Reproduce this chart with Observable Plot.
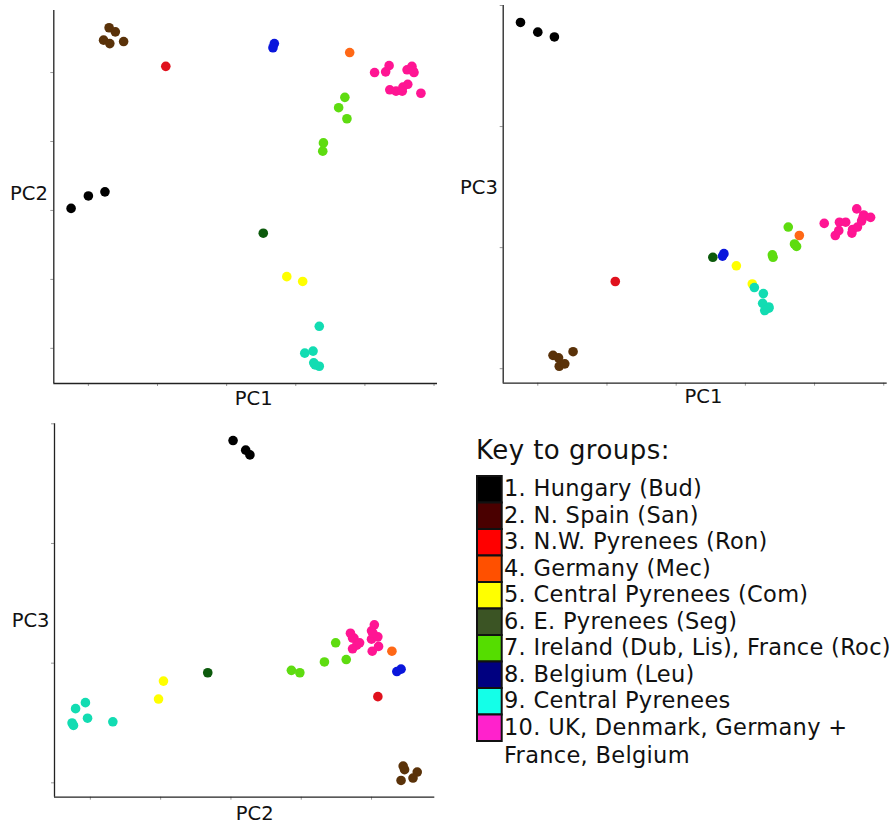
<!DOCTYPE html>
<html>
<head>
<meta charset="utf-8">
<script src="https://cdn.jsdelivr.net/npm/d3@7"></script>
<script src="https://cdn.jsdelivr.net/npm/@observablehq/plot@0.6"></script>
<style>
  body { margin: 0; background: #fff; }
  #chart { position: relative; width: 890px; height: 824px; overflow: hidden; background: #fff; }
  .panel { position: absolute; }
</style>
</head>
<body>
<div id="chart"></div>
<script>
// ---- data ----
const groupIds = [1, 2, 3, 4, 5, 6, 7, 8, 9, 10];
const groupLabels = [
  "1. Hungary (Bud)",
  "2. N. Spain (San)",
  "3. N.W. Pyrenees (Ron)",
  "4. Germany (Mec)",
  "5. Central Pyrenees (Com)",
  "6. E. Pyrenees (Seg)",
  "7. Ireland (Dub, Lis), France (Roc)",
  "8. Belgium (Leu)",
  "9. Central Pyrenees",
  "10. UK, Denmark, Germany +"
];
const labelContinuation = "France, Belgium";
const pointColors = ["#000000", "#5a3209", "#e0111d", "#ff6816", "#ffff00", "#0c5a0c", "#5edc10", "#0a16dc", "#12dcb2", "#ff1593"];
const keyColors = ["#000000", "#4a0000", "#ff0000", "#ff5000", "#ffff00", "#3b5424", "#55dd00", "#000080", "#14ffe8", "#ff22cc"];

const sampleGroup = [1,1,1, 2,2,2,2,2, 3, 4, 5,5, 6, 7,7,7,7,7, 8,8, 9,9,9,9,9,9, 10,10,10,10,10,10,10,10,10,10,10,10,10];
const pc1 = [0.75,1.00,1.24, 1.22,1.51,1.30,1.31,1.39, 2.12, 4.78, 3.87,4.10, 3.53, 4.62,4.71,4.74,4.40,4.39, 3.69,3.67, 4.34,4.13,4.25,4.26,4.34,4.28, 5.14,5.30,5.35,5.61,5.68,5.71,5.70,5.36,5.45,5.54,5.55,5.62,5.81];
const pc2 = [3.03,3.21,3.27, 5.47,5.45,5.65,5.42,5.59, 5.09, 5.29, 2.04,1.97, 2.67, 4.49,4.64,4.33,3.98,3.86, 5.42,5.36, 1.32,0.93,0.96,0.79,0.74,0.76, 5.00,5.01,5.10,5.04,5.09,5.00,5.02,4.75,4.73,4.73,4.79,4.83,4.70];
const pc3 = [2.86,2.78,2.74, 0.11,0.14,0.09,0.02,0.04, 0.72, 1.10, 0.85,0.70, 0.92, 1.17,1.03,1.01,0.92,0.94, 0.95,0.93, 0.51,0.67,0.54,0.62,0.50,0.48, 1.20,1.10,1.14,1.32,1.22,1.27,1.25,1.21,1.21,1.12,1.15,1.17,1.25];

const pc1Domain = [0.5, 6.05];
const pc2Domain = [0.49, 5.9];
const pc3Domain = [-0.12, 3.0];
const pc1Ticks = [1, 2, 3, 4, 5, 6];
const pc2Ticks = [1, 2, 3, 4, 5];
const pc3Ticks = [0, 1, 2, 3];

const samples = sampleGroup.map((g, i) => ({g, PC1: pc1[i], PC2: pc2[i], PC3: pc3[i]}));

const FONT = "DejaVu Sans, Verdana, sans-serif";

function panel(o) {
  return Plot.plot({
    width: o.width,
    height: o.height,
    marginLeft: o.ml, marginRight: o.mr, marginTop: o.mt, marginBottom: o.mb,
    style: {color: "#999", background: "transparent", fontFamily: FONT},
    x: {domain: o.xDomain, ticks: o.xTicks, tickSize: 3, tickFormat: () => "", label: null},
    y: {domain: o.yDomain, ticks: o.yTicks, tickSize: 3, tickFormat: () => "", label: null},
    color: {domain: groupIds, range: pointColors},
    marks: [
      Plot.ruleY([o.yDomain[0]], {stroke: "#222", strokeWidth: 1.3}),
      Plot.ruleX([o.xDomain[0]], {stroke: "#222", strokeWidth: 1.3}),
      Plot.dot(samples, {x: o.x, y: o.y, fill: "g", r: 4.8, stroke: null}),
      Plot.text([o.x], {frameAnchor: "bottom", lineAnchor: "bottom", dx: o.xlDx, dy: o.xlDy,
        fontSize: 19.5, fontFamily: FONT, fill: "#111", text: d => d}),
      Plot.text([o.y], {frameAnchor: "left", lineAnchor: "bottom", textAnchor: "end", dx: o.ylDx, dy: o.ylDy,
        fontSize: 19.5, fontFamily: FONT, fill: "#111", text: d => d})
    ]
  });
}

const chart = document.getElementById("chart");
function place(el, left, top) {
  el.classList.add("panel");
  el.style.left = left + "px";
  el.style.top = top + "px";
  chart.appendChild(el);
}

place(panel({x: "PC1", y: "PC2", width: 445, height: 410, ml: 53.3, mr: 8, mt: 10, mb: 27,
  xDomain: pc1Domain, yDomain: pc2Domain, xTicks: pc1Ticks, yTicks: pc2Ticks,
  xlDx: 8, xlDy: 21, ylDx: -6, ylDy: 2.5}), 0, 0);

place(panel({x: "PC1", y: "PC3", width: 445, height: 410, ml: 57.7, mr: 3.3, mt: 5, mb: 27.3,
  xDomain: pc1Domain, yDomain: pc3Domain, xTicks: pc1Ticks, yTicks: pc3Ticks,
  xlDx: 8.3, xlDy: 19.3, ylDx: -5.4, ylDy: -0.5}), 445, 0);

place(panel({x: "PC2", y: "PC3", width: 445, height: 419, ml: 54, mr: 10.7, mt: 18.3, mb: 27.3,
  xDomain: pc2Domain, yDomain: pc3Domain, xTicks: pc2Ticks, yTicks: pc3Ticks,
  xlDx: 10, xlDy: 22.3, ylDx: -5, ylDy: 16}), 0, 405);

// ---- key ----
const rowH = 26.5;
const key = d3.create("svg").attr("width", 430).attr("height", 404)
  .style("font-family", FONT).style("overflow", "hidden");
key.append("text").attr("x", 16).attr("y", 39).attr("font-size", 26).attr("fill", "#111")
  .attr("letter-spacing", 0.45)
  .text("Key to groups:");
const rows = key.selectAll("g.row").data(groupIds).join("g").attr("class", "row");
rows.append("rect")
  .attr("x", 17).attr("y", (d, i) => 56 + i * rowH)
  .attr("width", 24.7).attr("height", rowH)
  .attr("fill", (d, i) => keyColors[i]).attr("stroke", "#111").attr("stroke-width", 2);
rows.append("text")
  .attr("x", 44).attr("y", (d, i) => 56 + i * rowH + 20)
  .attr("font-size", 22.5).attr("fill", "#111").attr("letter-spacing", 0.3)
  .text((d, i) => groupLabels[i]);
key.append("text").attr("x", 44).attr("y", 343.3).attr("font-size", 22.5).attr("fill", "#111")
  .attr("letter-spacing", 0.3)
  .text(labelContinuation);
place(key.node(), 460, 420);
</script>
</body>
</html>
